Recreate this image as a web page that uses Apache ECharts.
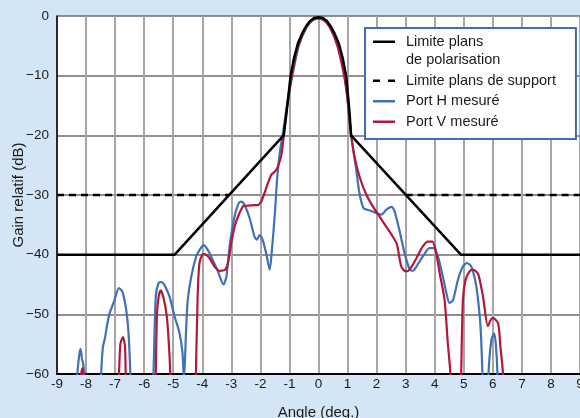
<!DOCTYPE html>
<html>
<head>
<meta charset="utf-8">
<script src="https://cdn.jsdelivr.net/npm/echarts@6/dist/echarts.min.js"></script>
<style>
html, body { margin: 0; padding: 0; background: #d4e6f5; }
#main { width: 580px; height: 418px; }
</style>
</head>
<body>
<div id="main"></div>
<script>
// valeurs (angle en deg, gain en dB)
var xTicks = [-9, -8, -7, -6, -5, -4, -3, -2, -1, 0, 1, 2, 3, 4, 5, 6, 7, 8, 9];
var yTicks = [-60, -50, -40, -30, -20, -10, 0];

var limitePolar = [
    [-9, -40], [-4.95, -40], [-1.2, -20], [-1.12, -17], [-1.05, -14], [-0.96, -10],
    [-0.84, -7], [-0.71, -4.6], [-0.57, -3], [-0.44, -1.8], [-0.3, -0.9], [-0.15, -0.35],
    [0, -0.2], [0.15, -0.35], [0.3, -0.9], [0.43, -1.8], [0.56, -3], [0.7, -4.6],
    [0.83, -7], [0.95, -10], [1.03, -14], [1.08, -17], [1.12, -20], [4.9, -40], [9, -40]
];

var limiteSupport = [[-9, -30], [-3.08, -30], [0, '-'], [3.0, -30], [9, -30]];

var portH = [
    [-8.4, -68], [-8.3, -60], [-8.24, -57], [-8.19, -55.8], [-8.14, -57.5], [-8.1, -58.2], [-8.05, -61], [-8.0, -70],
    [-7.55, -70], [-7.48, -60], [-7.42, -55.5], [-7.35, -54], [-7.3, -52.5], [-7.2, -50], [-7.02, -47.6],
    [-6.87, -45.6], [-6.75, -46.2], [-6.62, -49.2], [-6.54, -53], [-6.49, -58], [-6.46, -62], [-6.4, -70],
    [-5.75, -70], [-5.68, -60], [-5.6, -47], [-5.5, -44.7], [-5.4, -44.6], [-5.3, -45.1], [-5.13, -47],
    [-4.95, -50.4], [-4.78, -53.2], [-4.68, -56.5], [-4.63, -61], [-4.56, -53], [-4.5, -47.6], [-4.38, -43.7],
    [-4.21, -40.3], [-4.09, -39.2], [-3.96, -38.4], [-3.81, -39.2], [-3.64, -40.9], [-3.46, -42.8],
    [-3.27, -45], [-3.17, -43.7], [-3.06, -38.6], [-2.89, -33.6], [-2.75, -31.4], [-2.66, -31.1],
    [-2.54, -31.7], [-2.37, -33.9], [-2.2, -37], [-2.12, -37.5], [-2.03, -36.7], [-1.93, -37.4],
    [-1.8, -39.8], [-1.68, -42.5], [-1.6, -39], [-1.5, -33], [-1.42, -27], [-1.32, -22.5], [-1.22, -19.5],
    [-1.1, -15.5], [-0.9, -10], [-0.68, -5], [-0.42, -2], [-0.2, -0.7], [0, -0.4], [0.2, -0.7],
    [0.42, -2], [0.67, -5], [0.9, -10], [1.0, -14], [1.08, -18], [1.14, -20.5], [1.18, -21.9],
    [1.3, -25.8], [1.41, -29.7], [1.55, -32.2], [1.76, -32.6], [1.99, -33], [2.16, -33.3], [2.33, -32.5],
    [2.51, -32], [2.62, -32.8], [2.79, -36], [2.96, -39.7], [3.14, -42.5], [3.25, -42.7], [3.37, -42],
    [3.59, -40.3], [3.82, -38.9], [3.96, -38.9], [4.11, -40.3], [4.28, -43.7], [4.4, -46.4], [4.51, -48.1],
    [4.63, -47.6], [4.8, -44.2], [4.97, -42], [5.11, -41.4], [5.26, -42], [5.43, -45.3], [5.55, -50.4],
    [5.6, -54.3], [5.64, -60], [5.68, -70], [5.8, -70], [5.85, -60], [5.95, -54.3], [6.04, -53.2],
    [6.1, -54.8], [6.16, -60], [6.2, -70]
];

var portV = [
    [-8.3, -70], [-8.22, -62], [-8.17, -60], [-8.13, -59], [-8.09, -60], [-8.05, -62], [-8.0, -70],
    [-6.95, -70], [-6.88, -62], [-6.82, -55], [-6.73, -53.8], [-6.66, -55.4], [-6.63, -62], [-6.58, -70],
    [-5.65, -70], [-5.6, -60], [-5.56, -50], [-5.5, -47], [-5.43, -46], [-5.33, -47.3], [-5.22, -50.4],
    [-5.15, -55], [-5.1, -60], [-5.05, -70],
    [-4.28, -70], [-4.22, -60], [-4.16, -47], [-4.1, -41.5], [-4.0, -40], [-3.92, -39.9], [-3.75, -40.6],
    [-3.58, -42], [-3.4, -42.7], [-3.23, -42.6], [-3.12, -41.5], [-3.0, -38], [-2.88, -35.2], [-2.77, -33.6],
    [-2.6, -31.9], [-2.49, -31.8], [-2.2, -31.7], [-2.09, -31.7], [-1.97, -31.1], [-1.86, -29.7],
    [-1.74, -28], [-1.62, -26.6], [-1.45, -25.8], [-1.36, -24.7], [-1.28, -23.4], [-1.18, -19.5],
    [-1.08, -15], [-0.92, -10], [-0.7, -5], [-0.44, -2], [-0.22, -0.7], [-0.02, -0.4], [0.18, -0.7],
    [0.4, -2], [0.65, -5], [0.88, -10], [1.0, -14], [1.08, -18], [1.13, -20.2], [1.24, -23.6],
    [1.41, -26.9], [1.65, -30], [1.87, -31.9], [2.1, -33.6], [2.33, -35.3], [2.56, -37], [2.7, -38.3],
    [2.85, -42], [3.0, -42.8], [3.14, -42.5], [3.37, -40.6], [3.59, -38.6], [3.77, -37.8], [3.92, -37.8],
    [4.03, -39.2], [4.17, -43.1], [4.34, -47.6], [4.45, -54.8], [4.54, -60], [4.58, -70],
    [4.86, -70], [4.91, -60], [4.97, -47.6], [5.06, -44.2], [5.2, -42.8], [5.31, -42.5], [5.49, -43.2],
    [5.66, -47], [5.83, -52], [5.92, -51], [6.0, -50.6], [6.18, -51.5], [6.26, -55.4], [6.35, -60], [6.4, -70]
];

var noms = ['Limite plans\nde polarisation', 'Limite plans de support', 'Port H mesuré', 'Port V mesuré'];

var iconTrait = 'path://M0,0H22V2.5H0Z';
var iconTirets = 'path://M0,0H7V2.5H0Z M15,0H22V2.5H15Z';

var myChart = echarts.init(document.getElementById('main'));

var option = {
    backgroundColor: '#d4e6f5',
    animation: false,
    textStyle: { fontFamily: 'Liberation Sans, Arial, sans-serif' },
    grid: {
        left: 57, right: 0, top: 16, bottom: 44,
        containLabel: false, outerBoundsMode: 'none',
        show: true, backgroundColor: '#ffffff', borderWidth: 0
    },
    legend: {
        orient: 'vertical',
        left: 365,
        top: 28,
        padding: [-14, 20, 8, 8],
        itemGap: 2,
        itemWidth: 22,
        itemHeight: 14,
        selectedMode: false,
        backgroundColor: '#ffffff',
        borderColor: '#3d6db5',
        borderWidth: 2,
        textStyle: { fontSize: 14.5, color: '#1a1a1a', lineHeight: 18.5, padding: [0, 0, 0, 6] },
        formatter: function (name) {
            // ligne vide au-dessus pour caler le trait sur "Limite plans"
            return name === noms[0] ? ' \n' + name : name;
        },
        data: [
            { name: noms[0], icon: iconTrait },
            { name: noms[1], icon: iconTirets },
            { name: noms[2], icon: iconTrait },
            { name: noms[3], icon: iconTrait }
        ]
    },
    xAxis: {
        type: 'value',
        min: xTicks[0],
        max: xTicks[xTicks.length - 1],
        interval: 1,
        name: 'Angle (deg.)',
        nameLocation: 'middle',
        nameGap: 31,
        nameTextStyle: { fontSize: 15, color: '#1a1a1a' },
        axisLine: { onZero: false, lineStyle: { color: '#000', width: 2 } },
        axisTick: { show: false },
        axisLabel: { fontSize: 13.5, color: '#1a1a1a', margin: 3, showMaxLabel: true, showMinLabel: true },
        splitLine: { show: true, lineStyle: { color: '#a6a6a6', width: 2 } }
    },
    yAxis: {
        type: 'value',
        min: yTicks[0],
        max: yTicks[yTicks.length - 1],
        interval: 10,
        name: 'Gain relatif (dB)',
        nameLocation: 'middle',
        nameGap: 31,
        nameMoveOverlap: false,
        nameTextStyle: { fontSize: 15, color: '#1a1a1a' },
        axisLine: { show: true, onZero: false, lineStyle: { color: '#000', width: 1.5 } },
        axisTick: { show: false },
        axisLabel: {
            fontSize: 13.5, color: '#1a1a1a', margin: 8,
            formatter: function (v) { return String(v).replace('-', '\u2212'); }
        },
        splitLine: { show: true, lineStyle: { color: '#6a6a6a', width: 1.5 } }
    },
    series: [
        {
            name: noms[0], type: 'line', data: limitePolar, symbol: 'none', z: 5,
            lineStyle: { color: '#000', width: 2.5 }, itemStyle: { color: '#000' }
        },
        {
            name: noms[1], type: 'line', data: limiteSupport, symbol: 'none', z: 4,
            connectNulls: false,
            lineStyle: { color: '#000', width: 2.5, type: [7, 5] }, itemStyle: { color: '#000' }
        },
        {
            name: noms[2], type: 'line', data: portH, symbol: 'none', smooth: 0.25, z: 3,
            lineStyle: { color: '#3f70b8', width: 2.2 }, itemStyle: { color: '#3f70b8' }
        },
        {
            name: noms[3], type: 'line', data: portV, symbol: 'none', smooth: 0.25, z: 4,
            lineStyle: { color: '#b5173a', width: 2.2 }, itemStyle: { color: '#b5173a' }
        }
    ]
};

myChart.setOption(option);
</script>
</body>
</html>
